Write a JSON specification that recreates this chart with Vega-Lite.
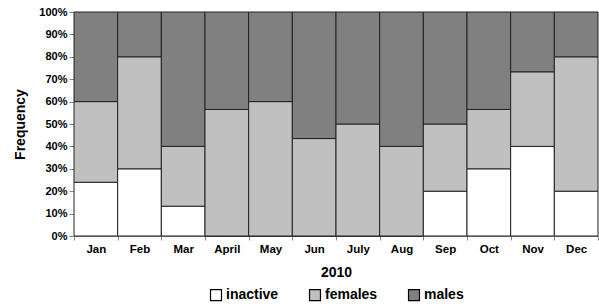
{
  "$schema": "https://vega.github.io/schema/vega-lite/v6.json",
  "width": 599,
  "height": 306,
  "autosize": {"type": "fit", "contains": "padding"},
  "padding": {"left": 13, "right": 0, "top": 6, "bottom": 3},
  "background": "white",
  "config": {
    "font": "Liberation Sans",
    "view": {"stroke": null},
    "axis": {"grid": false, "labelFontWeight": "bold", "titleFontWeight": "bold", "labelColor": "black", "titleColor": "black", "domainColor": "#888888", "tickColor": "#888888"},
    "legend": {"layout": {"bottom": {"anchor": "middle"}}}
  },
  "data": {
    "values": [
      {"month": "Jan", "m": 1, "group": "inactive", "o": 1, "value": 24},
      {"month": "Jan", "m": 1, "group": "females", "o": 2, "value": 36},
      {"month": "Jan", "m": 1, "group": "males", "o": 3, "value": 40},
      {"month": "Feb", "m": 2, "group": "inactive", "o": 1, "value": 30},
      {"month": "Feb", "m": 2, "group": "females", "o": 2, "value": 50},
      {"month": "Feb", "m": 2, "group": "males", "o": 3, "value": 20},
      {"month": "Mar", "m": 3, "group": "inactive", "o": 1, "value": 13.3},
      {"month": "Mar", "m": 3, "group": "females", "o": 2, "value": 26.7},
      {"month": "Mar", "m": 3, "group": "males", "o": 3, "value": 60},
      {"month": "April", "m": 4, "group": "inactive", "o": 1, "value": 0},
      {"month": "April", "m": 4, "group": "females", "o": 2, "value": 56.5},
      {"month": "April", "m": 4, "group": "males", "o": 3, "value": 43.5},
      {"month": "May", "m": 5, "group": "inactive", "o": 1, "value": 0},
      {"month": "May", "m": 5, "group": "females", "o": 2, "value": 60},
      {"month": "May", "m": 5, "group": "males", "o": 3, "value": 40},
      {"month": "Jun", "m": 6, "group": "inactive", "o": 1, "value": 0},
      {"month": "Jun", "m": 6, "group": "females", "o": 2, "value": 43.5},
      {"month": "Jun", "m": 6, "group": "males", "o": 3, "value": 56.5},
      {"month": "July", "m": 7, "group": "inactive", "o": 1, "value": 0},
      {"month": "July", "m": 7, "group": "females", "o": 2, "value": 50},
      {"month": "July", "m": 7, "group": "males", "o": 3, "value": 50},
      {"month": "Aug", "m": 8, "group": "inactive", "o": 1, "value": 0},
      {"month": "Aug", "m": 8, "group": "females", "o": 2, "value": 40},
      {"month": "Aug", "m": 8, "group": "males", "o": 3, "value": 60},
      {"month": "Sep", "m": 9, "group": "inactive", "o": 1, "value": 20},
      {"month": "Sep", "m": 9, "group": "females", "o": 2, "value": 30},
      {"month": "Sep", "m": 9, "group": "males", "o": 3, "value": 50},
      {"month": "Oct", "m": 10, "group": "inactive", "o": 1, "value": 30},
      {"month": "Oct", "m": 10, "group": "females", "o": 2, "value": 26.5},
      {"month": "Oct", "m": 10, "group": "males", "o": 3, "value": 43.5},
      {"month": "Nov", "m": 11, "group": "inactive", "o": 1, "value": 40},
      {"month": "Nov", "m": 11, "group": "females", "o": 2, "value": 33.3},
      {"month": "Nov", "m": 11, "group": "males", "o": 3, "value": 26.7},
      {"month": "Dec", "m": 12, "group": "inactive", "o": 1, "value": 20},
      {"month": "Dec", "m": 12, "group": "females", "o": 2, "value": 60},
      {"month": "Dec", "m": 12, "group": "males", "o": 3, "value": 20}
    ]
  },
  "mark": {"type": "bar", "stroke": "#222222", "strokeWidth": 1},
  "encoding": {
    "x": {
      "field": "month", "type": "nominal",
      "sort": ["Jan", "Feb", "Mar", "April", "May", "Jun", "July", "Aug", "Sep", "Oct", "Nov", "Dec"],
      "scale": {"paddingInner": 0, "paddingOuter": 0},
      "axis": {"title": "2010", "labelAngle": 0, "labelFontSize": 11.5, "titleFontSize": 14, "labelPadding": 3, "titlePadding": 11, "tickBand": "extent", "tickSize": 4}
    },
    "y": {
      "field": "value", "type": "quantitative", "stack": "normalize",
      "scale": {"domain": [0, 1]},
      "axis": {"title": "Frequency", "format": ".0%", "labelOverlap": false, "values": [0, 0.1, 0.2, 0.3, 0.4, 0.5, 0.6, 0.7, 0.8, 0.9, 1], "labelFontSize": 11, "titleFontSize": 14, "tickSize": 5, "labelPadding": 2, "titlePadding": 11}
    },
    "order": {"field": "o", "type": "quantitative"},
    "color": {
      "field": "group", "type": "nominal",
      "scale": {"domain": ["inactive", "females", "males"], "range": ["#ffffff", "#c0c0c0", "#808080"]},
      "legend": {"title": null, "orient": "bottom", "direction": "horizontal", "symbolType": "square", "symbolStrokeColor": "black", "symbolStrokeWidth": 1.2, "symbolSize": 120, "labelFontSize": 14, "labelFontWeight": "bold", "labelColor": "black", "columnPadding": 28, "offset": 8, "labelOffset": 3}
    }
  }
}
